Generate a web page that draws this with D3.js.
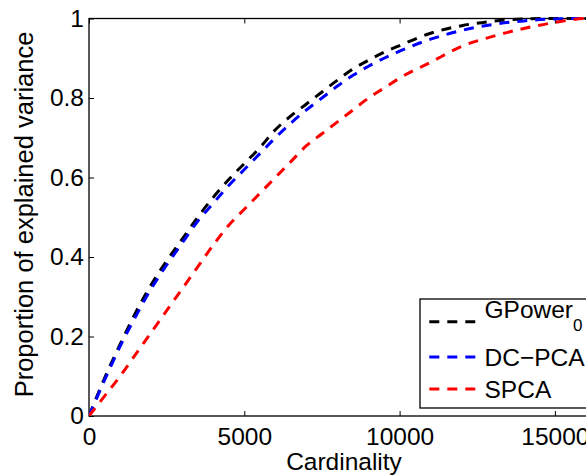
<!DOCTYPE html>
<html>
<head>
<meta charset="utf-8">
<script src="https://cdn.jsdelivr.net/npm/d3@7"></script>
<style>
  html, body { margin: 0; padding: 0; background: #fff; overflow: hidden; }
  svg { display: block; font-family: 'Liberation Sans', Arial, sans-serif; }
</style>
</head>
<body>
<svg id="chart" width="586" height="476"></svg>
<script>
// cardinality values (x)
const cardinality = [0, 500, 1000, 1500, 2000, 2500, 3000, 3500, 4000, 4500, 5000,
  5500, 6000, 6500, 7000, 7500, 8000, 8500, 9000, 9500, 10000,
  11000, 12000, 13000, 14000, 15000, 16000, 17000]

// proportion of explained variance per method
const gpower = [0, 0.095, 0.18, 0.26, 0.33, 0.39, 0.445, 0.50, 0.55, 0.595, 0.635,
  0.675, 0.72, 0.755, 0.785, 0.815, 0.845, 0.873, 0.895, 0.915, 0.932,
  0.963, 0.982, 0.993, 0.999, 1, 1, 1]
const dcpca = [0, 0.09, 0.175, 0.25, 0.32, 0.38, 0.435, 0.49, 0.535, 0.58, 0.62,
  0.66, 0.70, 0.737, 0.77, 0.80, 0.83, 0.857, 0.88, 0.90, 0.918,
  0.948, 0.97, 0.985, 0.994, 0.999, 1, 1]
const spca = [0, 0.05, 0.10, 0.155, 0.21, 0.265, 0.32, 0.375, 0.43, 0.48, 0.52,
  0.56, 0.60, 0.64, 0.68, 0.71, 0.74, 0.77, 0.80, 0.825, 0.85,
  0.89, 0.93, 0.955, 0.975, 0.99, 1, 1]

const xTicks = [0, 5000, 10000, 15000]
const yTicks = [0, 0.2, 0.4, 0.6, 0.8, 1]
const yTickLabels = ['0', '0.2', '0.4', '0.6', '0.8', '1']

const series = [
  {name: 'GPower', sub: '0', color: '#000000', values: gpower},
  {name: 'DC\u2212PCA', sub: null, color: '#0000ff', values: dcpca},
  {name: 'SPCA', sub: null, color: '#ff0000', values: spca},
]

const svg = d3.select('#chart')
const fontSize = 24.5
const dash = '10,8'
const margin = {top: 18.5, left: 89, bottom: 60}
const plotRight = 89 + 17000 * 155.3 / 5000
const plotBottom = 476 - margin.bottom

const x = d3.scaleLinear().domain([0, 17000]).range([margin.left, plotRight])
const y = d3.scaleLinear().domain([0, 1]).range([plotBottom, margin.top])

const g = svg.append('g')

// axes box
g.append('rect')
  .attr('x', margin.left)
  .attr('y', margin.top)
  .attr('width', plotRight - margin.left)
  .attr('height', plotBottom - margin.top)
  .attr('fill', 'none')
  .attr('stroke', '#000')
  .attr('stroke-width', 1.3)

// bottom axis, inward ticks
const xAxis = g.append('g')
  .attr('transform', `translate(0, ${plotBottom})`)
  .call(d3.axisBottom(x).tickValues(xTicks).tickSizeInner(-5).tickSizeOuter(0)
    .tickFormat(d3.format('d')))
xAxis.select('.domain').remove()
xAxis.selectAll('line').attr('stroke', '#000')
xAxis.selectAll('text')
  .attr('y', 29).attr('dy', 0)
  .attr('font-size', fontSize).attr('fill', '#000').attr('font-family', null)

// top mirrored ticks
const xTop = g.append('g')
  .attr('transform', `translate(0, ${margin.top})`)
  .call(d3.axisTop(x).tickValues(xTicks).tickSizeInner(-5).tickSizeOuter(0).tickFormat(''))
xTop.select('.domain').remove()

// left axis
const yAxis = g.append('g')
  .attr('transform', `translate(${margin.left}, 0)`)
  .call(d3.axisLeft(y).tickValues(yTicks).tickSizeInner(-5).tickSizeOuter(0).tickPadding(5)
    .tickFormat((d, i) => yTickLabels[i]))
yAxis.select('.domain').remove()
yAxis.selectAll('line').attr('stroke', '#000')
yAxis.selectAll('text').attr('font-size', fontSize).attr('fill', '#000').attr('font-family', null)

// axis titles
svg.append('text')
  .attr('x', 344)
  .attr('y', 470)
  .attr('text-anchor', 'middle')
  .attr('font-size', fontSize)
  .text('Cardinality')

svg.append('text')
  .attr('transform', 'translate(33, 214.5) rotate(-90)')
  .attr('text-anchor', 'middle')
  .attr('font-size', 25.5)
  .text('Proportion of explained variance')

// curves
const line = d3.line()
  .x((d, i) => x(cardinality[i]))
  .y(d => y(d))
  .curve(d3.curveMonotoneX)

svg.append('clipPath').attr('id', 'plot-clip')
  .append('rect')
  .attr('x', margin.left).attr('y', margin.top - 3)
  .attr('width', plotRight - margin.left).attr('height', plotBottom - margin.top + 3)

series.forEach(s => {
  g.append('path')
    .datum(s.values)
    .attr('d', line)
    .attr('fill', 'none')
    .attr('stroke', s.color)
    .attr('stroke-width', 3)
    .attr('stroke-dasharray', dash)
    .attr('clip-path', 'url(#plot-clip)')
})

// legend
const legend = svg.append('g').attr('transform', 'translate(420, 299)')
legend.append('rect')
  .attr('x', 0).attr('y', 0)
  .attr('width', 200).attr('height', 109)
  .attr('fill', '#fff')
  .attr('stroke', '#000')
  .attr('stroke-width', 1.3)

const rowLine = [22.7, 58, 90]
const rowText = [19, 67, 99]
series.forEach((s, i) => {
  legend.append('line')
    .attr('x1', 9.3).attr('x2', 57.7)
    .attr('y1', rowLine[i]).attr('y2', rowLine[i])
    .attr('stroke', s.color)
    .attr('stroke-width', 3)
    .attr('stroke-dasharray', dash)
  const t = legend.append('text')
    .attr('x', 64.5)
    .attr('y', rowText[i])
    .attr('font-size', fontSize)
    .text(s.name)
  if (s.sub) {
    t.append('tspan')
      .attr('font-size', 17)
      .attr('dy', 13)
      .text(s.sub)
  }
})
</script>
</body>
</html>
